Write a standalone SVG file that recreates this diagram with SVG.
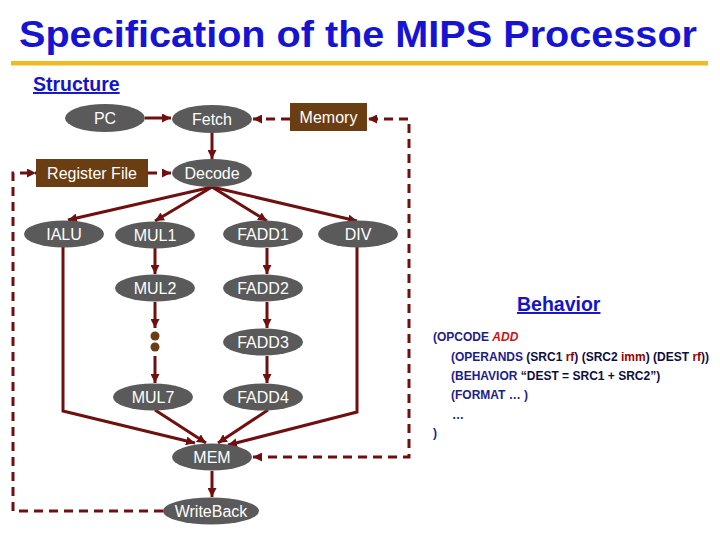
<svg xmlns="http://www.w3.org/2000/svg" width="720" height="540" viewBox="0 0 720 540">
<style>
.title{font-family:"Liberation Sans",Arial,sans-serif;font-weight:bold;fill:#1414d2}
.sec{font-family:"Liberation Sans",Arial,sans-serif;font-weight:bold;font-size:19.5px;fill:#1414c8;text-decoration:underline}
.ell{fill:#5a5a5a}
.box{fill:#6b3d12}
.lbl{font-family:"Liberation Sans",Arial,sans-serif;font-size:16px;fill:#ffffff;text-anchor:middle}
.c{fill:none;stroke:#700f0f;stroke-width:3}
.d{fill:none;stroke:#700f0f;stroke-width:3;stroke-dasharray:9 6}
.beh{font-family:"Liberation Sans",Arial,sans-serif;font-weight:bold;font-size:12px;fill:#1c1c8c}
.dk{fill:#0d0d45}
.rd{fill:#990000}
.ad{fill:#d01010;font-style:italic}
</style>
<defs>
<marker id="ah" markerUnits="userSpaceOnUse" markerWidth="9" markerHeight="9" refX="9" refY="4.5" orient="auto">
<path d="M0,0 L9,4.5 L0,9 z" fill="#700f0f"/>
</marker>
<marker id="as" markerUnits="userSpaceOnUse" markerWidth="9" markerHeight="9" refX="0" refY="4.5" orient="auto">
<path d="M9,0 L0,4.5 L9,9 z" fill="#700f0f"/>
</marker>
</defs>
<rect width="720" height="540" fill="#ffffff"/>
<text class="title" x="19" y="47" font-size="37" textLength="678" lengthAdjust="spacingAndGlyphs">Specification of the MIPS Processor</text>
<rect x="11" y="61" width="697" height="4.5" fill="#efbb22"/>
<text class="sec" x="33" y="91">Structure</text>
<text class="sec" x="517" y="311">Behavior</text>

<g id="connectors">
<path class="c" d="M145,118 L171,118" marker-end="url(#ah)"/>
<path class="d" d="M290,119 L253,119" marker-end="url(#ah)"/>
<path class="c" d="M212,133 L212,159" marker-end="url(#ah)"/>
<path class="d" d="M148,173 L171,173" marker-end="url(#ah)"/>
<path class="d" d="M163,511 L13,511 L13,173 L36,173" marker-end="url(#ah)"/>
<path class="d" d="M253,457 L409,457 L409,119 L368,119" marker-start="url(#as)" marker-end="url(#ah)"/>
<path class="c" d="M212,187 L68,220" marker-end="url(#ah)"/>
<path class="c" d="M212,187 L155,221" marker-end="url(#ah)"/>
<path class="c" d="M212,187 L267,221" marker-end="url(#ah)"/>
<path class="c" d="M212,187 L357,221" marker-end="url(#ah)"/>
<path class="c" d="M155,248 L155,274" marker-end="url(#ah)"/>
<path class="c" d="M267,248 L267,274" marker-end="url(#ah)"/>
<path class="c" d="M155,302 L155,328" marker-end="url(#ah)"/>
<path class="c" d="M155,356 L155,383" marker-end="url(#ah)"/>
<path class="c" d="M267,302 L267,328" marker-end="url(#ah)"/>
<path class="c" d="M267,356 L267,383" marker-end="url(#ah)"/>
<path class="c" d="M63,247 L63,411 L195,443" marker-end="url(#ah)"/>
<path class="c" d="M155,410 L206,443" marker-end="url(#ah)"/>
<path class="c" d="M268,410 L218,443" marker-end="url(#ah)"/>
<path class="c" d="M357,247 L357,412 L228,445" marker-end="url(#ah)"/>
<path class="c" d="M212,471 L212,497" marker-end="url(#ah)"/>
</g>

<g id="pc"><ellipse class="ell" cx="105" cy="118" rx="40" ry="14"/><text class="lbl" x="105" y="123.5">PC</text></g>
<g id="fetch"><ellipse class="ell" cx="212" cy="119" rx="40" ry="14"/><text class="lbl" x="212" y="124.5">Fetch</text></g>
<g id="memory"><rect class="box" x="290" y="103" width="77" height="28"/><text class="lbl" x="328.5" y="122.5">Memory</text></g>
<g id="regfile"><rect class="box" x="36" y="159" width="112" height="28"/><text class="lbl" x="92" y="178.5">Register File</text></g>
<g id="decode"><ellipse class="ell" cx="212" cy="173" rx="40" ry="14"/><text class="lbl" x="212" y="178.5">Decode</text></g>
<g id="ialu"><ellipse class="ell" cx="64" cy="234" rx="40" ry="13.5"/><text class="lbl" x="64" y="239.5">IALU</text></g>
<g id="mul1"><ellipse class="ell" cx="155" cy="235" rx="40" ry="13.5"/><text class="lbl" x="155" y="240.5">MUL1</text></g>
<g id="fadd1"><ellipse class="ell" cx="263" cy="234" rx="40" ry="13.5"/><text class="lbl" x="263" y="239.5">FADD1</text></g>
<g id="div"><ellipse class="ell" cx="358" cy="234" rx="40" ry="13.5"/><text class="lbl" x="358" y="239.5">DIV</text></g>
<g id="mul2"><ellipse class="ell" cx="155" cy="288" rx="40" ry="13.5"/><text class="lbl" x="155" y="293.5">MUL2</text></g>
<g id="fadd2"><ellipse class="ell" cx="263" cy="288" rx="40" ry="13.5"/><text class="lbl" x="263" y="293.5">FADD2</text></g>
<g id="dots"><circle cx="155" cy="336" r="4.5" fill="#6b3d12"/><circle cx="155" cy="347" r="4.5" fill="#6b3d12"/></g>
<g id="fadd3"><ellipse class="ell" cx="263" cy="342" rx="40" ry="13.5"/><text class="lbl" x="263" y="347.5">FADD3</text></g>
<g id="mul7"><ellipse class="ell" cx="153" cy="397" rx="40" ry="13.5"/><text class="lbl" x="153" y="402.5">MUL7</text></g>
<g id="fadd4"><ellipse class="ell" cx="263" cy="397" rx="40" ry="13.5"/><text class="lbl" x="263" y="402.5">FADD4</text></g>
<g id="mem"><ellipse class="ell" cx="212" cy="457" rx="40" ry="13.5"/><text class="lbl" x="212" y="462.5">MEM</text></g>
<g id="writeback"><ellipse class="ell" cx="211" cy="511" rx="48" ry="13.5"/><text class="lbl" x="211" y="516.5">WriteBack</text></g>

<g id="behavior">
<text class="beh" x="433" y="341">(OPCODE <tspan class="ad">ADD</tspan></text>
<text class="beh" x="451" y="360.5">(OPERANDS <tspan class="dk">(SRC1 </tspan><tspan class="rd">rf</tspan><tspan class="dk">) (SRC2 </tspan><tspan class="rd">imm</tspan><tspan class="dk">) (DEST </tspan><tspan class="rd">rf</tspan><tspan class="dk">))</tspan></text>
<text class="beh" x="451" y="380">(BEHAVIOR <tspan class="dk">“DEST = SRC1 + SRC2”)</tspan></text>
<text class="beh" x="451" y="399">(FORMAT … )</text>
<text class="beh" x="452" y="419">…</text>
<text class="beh" x="433" y="437">)</text>
</g>
</svg>
